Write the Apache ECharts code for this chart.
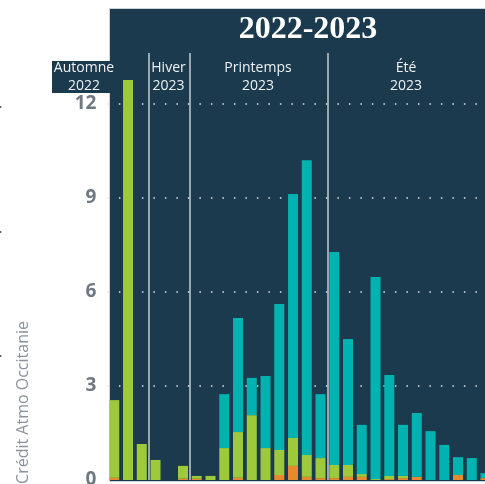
<!DOCTYPE html>
<html>
<head>
<meta charset="utf-8">
<script src="https://cdn.jsdelivr.net/npm/echarts@6/dist/echarts.min.js"></script>
<style>
html,body{margin:0;padding:0;background:#fff;overflow:hidden;}
#c{width:485px;height:484px;}
</style>
</head>
<body>
<div id="c"></div>
<script>
// ---- data ----
const categories = ['P1','P2','P3','P4','P5','P6','P7','P8','P9','P10','P11','P12','P13','P14',
  'P15','P16','P17','P18','P19','P20','P21','P22','P23','P24','P25','P26','P27','P28'];
const orangeValues = [0.07,0,0,0,0,0.04,0.04,0,0,0.07,0,0,0.16,0.45,0.10,0.06,0.06,0.10,0.10,0,0.03,0.06,0.10,0,0,0.16,0,0.06];
const greenValues  = [2.48,12.77,1.15,0.64,0,0.41,0.09,0.13,1.02,1.46,2.07,1.02,0.80,0.89,0.70,0.64,0.42,0.38,0.09,0.03,0.10,0.07,0,0,0,0,0,0];
const tealValues   = [0,0,0,0,0,0,0,0,1.72,3.64,1.19,2.30,4.66,7.79,9.41,2.04,6.80,4.02,1.57,6.45,3.22,1.63,2.04,1.56,1.12,0.57,0.70,0.16];
const seasonLabels = ['Automne\n2022','Hiver\n2023','Printemps\n2023','Été\n2023'];
const seasonStarts = [3, 6, 16]; // category index where a new season begins
const yTicks = [0, 3, 6, 9, 12];
const titleText = '2022-2023';
const creditText = 'Crédit Atmo Occitanie';

// ---- styles ----
const PANEL = '#1b3a4e';
const chart = echarts.init(document.getElementById('c'), null, {renderer:'canvas'});

const option = {
  animation: false,
  backgroundColor: 'transparent',
  grid: { left: 107.4, width: 385, top: 53, height: 427, containLabel: false, outerBoundsMode: 'none' },
  xAxis: {
    type: 'category',
    data: categories,
    boundaryGap: true,
    axisLine: {show:false}, axisTick: {show:false}, axisLabel: {show:false},
    splitLine: {
      show: true,
      interval: function (i) { return seasonStarts.indexOf(i) >= 0; },
      lineStyle: { color: '#c3ccd2', width: 1.5 }
    }
  },
  yAxis: {
    type: 'value', min: 0, max: 13.63, interval: 3,
    axisLine: {show:false}, axisTick: {show:false},
    axisLabel: {
      margin: 11,
      color: '#6f7883', fontSize: 19, fontWeight: 'bold', fontFamily: 'Open Sans',
      formatter: function (v) { return yTicks.indexOf(v) >= 0 ? String(v) : ''; }
    },
    splitLine: {
      show: true, showMinLine: false, showMaxLine: false,
      lineStyle: { color: '#dfe6ea', width: 1.5, type: [1.5, 10] }
    }
  },
  series: [
    { name: 'Série A', type: 'bar', stack: 't', barWidth: 10, data: orangeValues, itemStyle: {color: '#e8892b'} },
    { name: 'Série B', type: 'bar', stack: 't', barWidth: 10, data: greenValues, itemStyle: {color: '#9dc93b'} },
    { name: 'Série C', type: 'bar', stack: 't', barWidth: 10, data: tealValues, itemStyle: {color: '#00b3b0'} }
  ],
  graphic: [
    { type: 'rect', z: -10, shape: {x: 109.5, y: 8.5, width: 420, height: 473},
      style: { fill: PANEL, stroke: '#cdd3d6', lineWidth: 1 } },
    { type: 'text', z: 10, x: 308, y: 30,
      style: { text: titleText, fill: '#ffffff', font: 'bold 32px "Liberation Serif"',
               textAlign: 'center', textVerticalAlign: 'middle' } },
    { type: 'rect', z: 9, shape: {x: 52, y: 61, width: 64, height: 32}, style: { fill: PANEL } },
    { type: 'text', z: 10, x: 84, y: 59,
      style: { text: seasonLabels[0], fill: '#eef2f4', font: '14px "Open Sans"', lineHeight: 18,
               textAlign: 'center', textVerticalAlign: 'top' } },
    { type: 'text', z: 10, x: 168.5, y: 59,
      style: { text: seasonLabels[1], fill: '#eef2f4', font: '14px "Open Sans"', lineHeight: 18,
               textAlign: 'center', textVerticalAlign: 'top' } },
    { type: 'text', z: 10, x: 258, y: 59,
      style: { text: seasonLabels[2], fill: '#eef2f4', font: '14px "Open Sans"', lineHeight: 18,
               textAlign: 'center', textVerticalAlign: 'top' } },
    { type: 'text', z: 10, x: 406, y: 59,
      style: { text: seasonLabels[3], fill: '#eef2f4', font: '14px "Open Sans"', lineHeight: 18,
               textAlign: 'center', textVerticalAlign: 'top' } },
    { type: 'text', z: 10, x: 23, y: 321, rotation: Math.PI / 2,
      style: { text: creditText, fill: '#8a939b', font: '16px "Open Sans"',
               textAlign: 'right', textVerticalAlign: 'middle' } },
    { type: 'circle', shape: {cx: 0.5, cy: 107, r: 1}, style: {fill: '#555'} },
    { type: 'circle', shape: {cx: 0.5, cy: 232, r: 1}, style: {fill: '#555'} },
    { type: 'circle', shape: {cx: 0.5, cy: 356, r: 1}, style: {fill: '#555'} }
  ]
};
chart.setOption(option);
</script>
</body>
</html>
